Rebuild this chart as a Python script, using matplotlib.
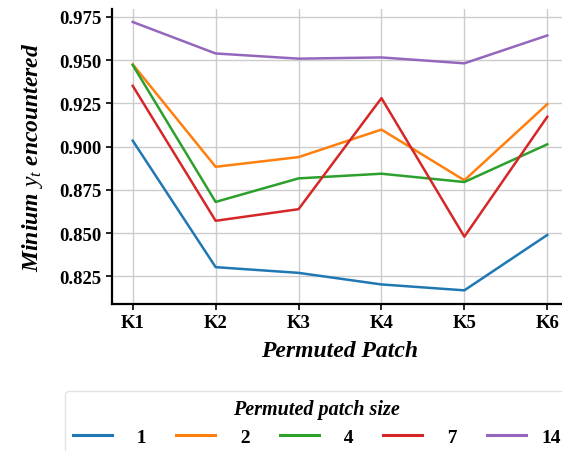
import matplotlib
matplotlib.use("Agg")
import matplotlib.pyplot as plt

plt.rcParams['font.family'] = ['Liberation Serif', 'DejaVu Serif']
plt.rcParams['mathtext.fontset'] = 'custom'
plt.rcParams['mathtext.it'] = 'Liberation Serif:italic'
plt.rcParams['mathtext.rm'] = 'Liberation Serif'

patches = ["K1", "K2", "K3", "K4", "K5", "K6"]
sizes = ["1", "2", "4", "7", "14"]
size_1 = [0.9034, 0.8303, 0.8270, 0.8203, 0.8169, 0.8489]
size_2 = [0.9475, 0.8883, 0.8939, 0.9098, 0.8805, 0.9245]
size_4 = [0.9471, 0.8680, 0.8816, 0.8843, 0.8795, 0.9013]
size_7 = [0.9351, 0.8571, 0.8638, 0.9280, 0.8479, 0.9172]
size_14 = [0.9720, 0.9538, 0.9508, 0.9515, 0.9481, 0.9642]
series = [size_1, size_2, size_4, size_7, size_14]
colors = ["#1f77b4", "#ff7f0e", "#2ca02c", "#d62728", "#9467bd"]

fig = plt.figure(figsize=(5.62, 4.52), dpi=100)
ax = fig.add_axes([112 / 562, 1 - 305 / 452, 456 / 562, 295 / 452])

x = range(len(patches))
for vals, lab, c in zip(series, sizes, colors):
    # right-align the labels like the original legend
    ax.plot(x, vals, color=c, lw=1.8, label=lab.rjust(2).replace(" ", "\u2007"))

ax.set_xlim(-0.25, 5.25)
ax.set_ylim(0.809, 0.9795)
ax.set_xticks(list(x))
ax.set_xticklabels(patches)
ax.set_yticks([0.825, 0.85, 0.875, 0.9, 0.925, 0.95, 0.975])
ax.set_yticklabels(["0.825", "0.850", "0.875", "0.900", "0.925", "0.950", "0.975"])
ax.grid(True, color="#cccccc", lw=1.0)
ax.set_axisbelow(True)
for s in ["top", "right"]:
    ax.spines[s].set_visible(False)
for s in ["left", "bottom"]:
    ax.spines[s].set_linewidth(1.6)
    ax.spines[s].set_color("black")
ax.tick_params(axis="both", length=4, width=1.2, labelsize=13.5)
for t in ax.get_xticklabels() + ax.get_yticklabels():
    t.set_fontweight("bold")

ax.set_xlabel("Permuted Patch", fontsize=17, fontweight="bold", fontstyle="italic", labelpad=6)
ax.set_ylabel(r"Minium $y_t$ encountered", fontsize=17, fontweight="bold", fontstyle="italic", labelpad=10)

leg = fig.legend(loc="upper left", bbox_to_anchor=(65 / 562, 1 - 392 / 452), ncol=5,
                 title="Permuted patch size", handlelength=2.0, handletextpad=0.8,
                 columnspacing=1.52, frameon=True, fancybox=True, borderaxespad=0,
                 prop={"weight": "bold", "size": 14})
leg.get_title().set_fontweight("bold")
leg.get_title().set_fontstyle("italic")
leg.get_title().set_fontsize(14.5)
leg.get_frame().set_edgecolor("#dddddd")
for h in leg.get_lines():
    h.set_linewidth(2.2)

fig.savefig("out.png", dpi=100)
